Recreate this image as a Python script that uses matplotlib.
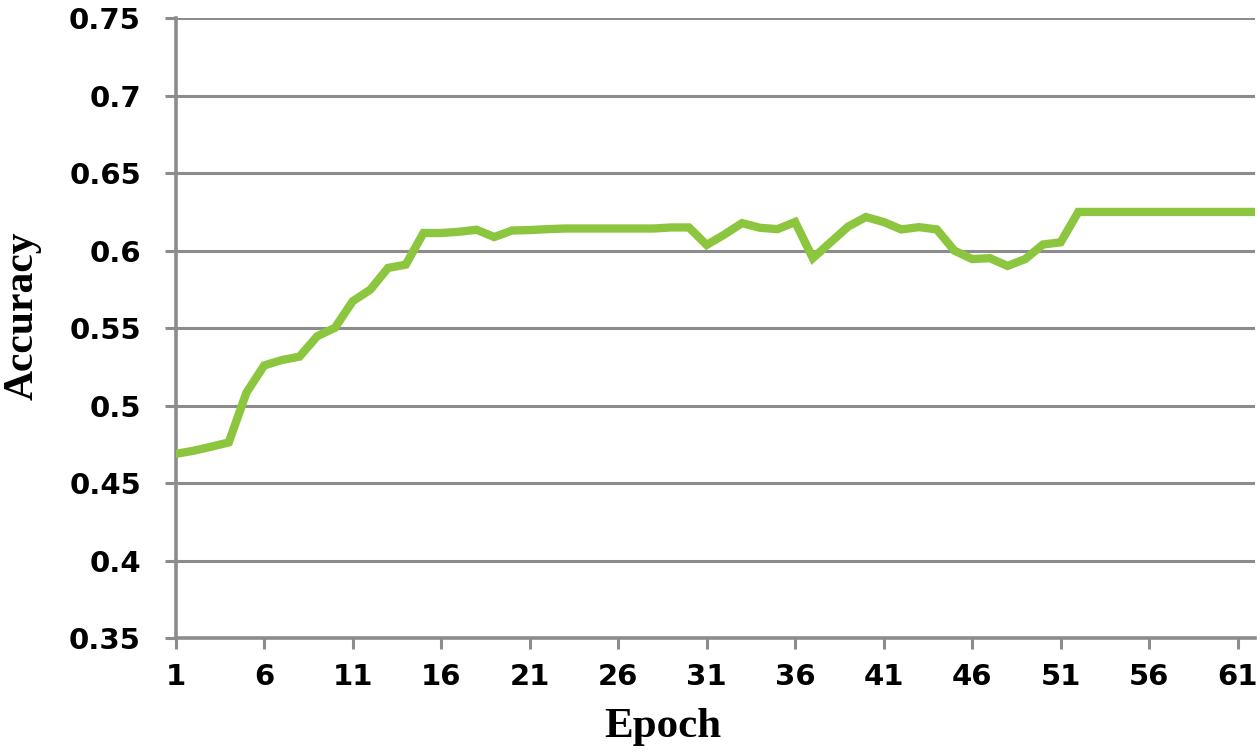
import matplotlib
matplotlib.use("Agg")
import matplotlib.pyplot as plt
import numpy as np

epochs = list(range(1, 63))
accuracy = [
    0.469, 0.471, 0.4736, 0.4764, 0.5085, 0.526, 0.5295, 0.5317, 0.5449, 0.5503,
    0.5674, 0.5749, 0.5889, 0.591, 0.6114, 0.6114, 0.6122, 0.6135, 0.6088, 0.613,
    0.6133, 0.6139, 0.6143, 0.6143, 0.6143, 0.6143, 0.6143, 0.6143, 0.615, 0.615,
    0.6037, 0.6104, 0.6178, 0.6148, 0.6139, 0.6185, 0.5952, 0.6054, 0.6156, 0.6217,
    0.6185, 0.6137, 0.6152, 0.6137, 0.600, 0.5946, 0.5952, 0.5902, 0.5946, 0.604,
    0.6054, 0.625, 0.625, 0.625, 0.625, 0.625, 0.625, 0.625, 0.625, 0.625,
    0.625, 0.625,
]
xticks = list(range(1, 62, 5))
yticks = [0.35, 0.4, 0.45, 0.5, 0.55, 0.6, 0.65, 0.7, 0.75]
ytick_labels = ["0.35", "0.4", "0.45", "0.5", "0.55", "0.6", "0.65", "0.7", "0.75"]

fig = plt.figure(figsize=(12.6, 7.52), dpi=100)
ax = fig.add_axes([0.1394, 0.151, 0.9963 - 0.1394, 0.976 - 0.151])

grid_c = "#8c8c8c"
ax.plot(epochs, accuracy, color="#8cc63f", lw=6.0, solid_joinstyle="miter", zorder=3)

ax.set_xlim(1, 62)
ax.set_ylim(0.35, 0.75)
ax.set_yticks(yticks)
ax.set_yticklabels(ytick_labels, fontsize=21, fontweight="bold", family="DejaVu Sans")
ax.set_xticks(xticks)
ax.set_xticklabels([str(t) for t in xticks], fontsize=21, fontweight="bold",
                   family="DejaVu Sans")
ax.yaxis.grid(True, color=grid_c, lw=2.2)
ax.set_axisbelow(True)

for s in ["top", "right"]:
    ax.spines[s].set_visible(False)
for s in ["left", "bottom"]:
    ax.spines[s].set_color(grid_c)
    ax.spines[s].set_linewidth(2.6)

ax.tick_params(axis="both", colors=grid_c, width=2.2, length=8, labelcolor="black")
ax.tick_params(axis="y", pad=17)
ax.tick_params(axis="x", pad=10)

ax.set_xlabel("Epoch", fontsize=31, fontweight="bold", family="Liberation Serif")
ax.set_ylabel("Accuracy", fontsize=30, fontweight="bold", family="Liberation Serif")
ax.xaxis.set_label_coords(0.451, -0.112)
ax.yaxis.set_label_coords(-0.124, 0.52)

fig.savefig("out.png", dpi=100)
